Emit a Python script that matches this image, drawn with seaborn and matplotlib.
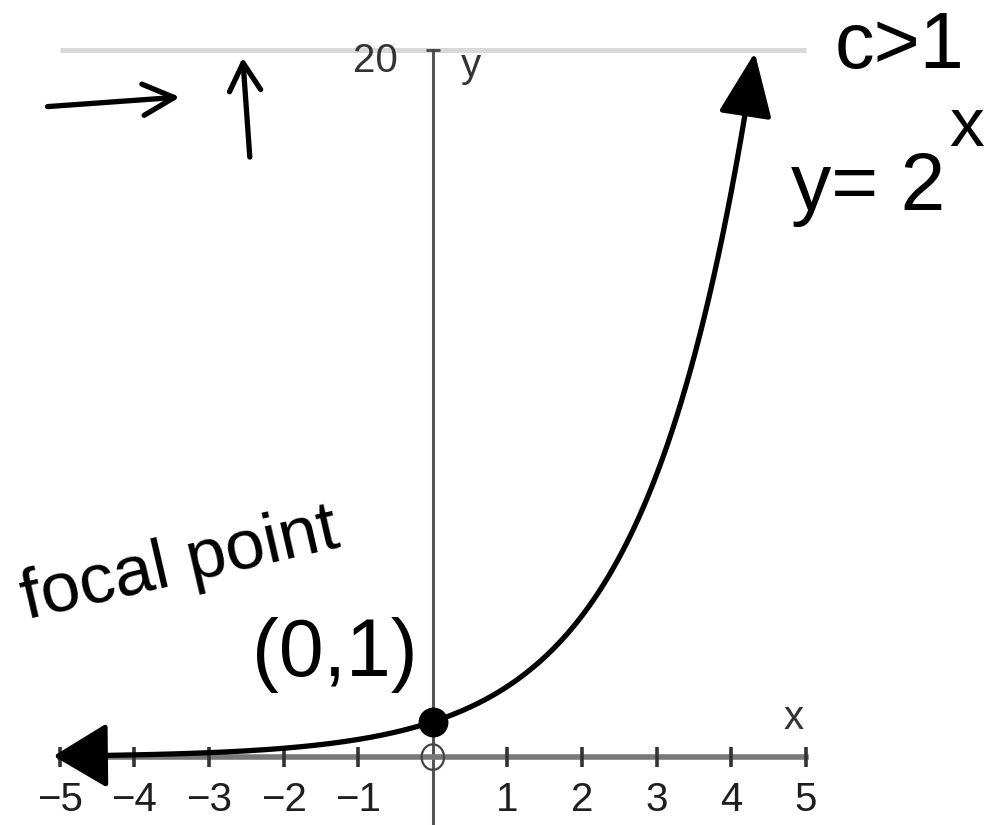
import numpy as np
import pandas as pd
import matplotlib
matplotlib.use("Agg")
import matplotlib.pyplot as plt
import matplotlib.transforms as mtransforms
from matplotlib.patches import Ellipse
import seaborn as sns

# Function shown: y = 2^x
base = 2
x_start, x_end = -4.92, 4.25
x_ticks = [-5, -4, -3, -2, -1, 1, 2, 3, 4, 5]
y_ticks = [20]
focal_x, focal_y = 0, 1

sns.set_theme(style="white")
FONT = ["Liberation Sans", "DejaVu Sans"]
plt.rcParams["font.family"] = FONT

fig = plt.figure(figsize=(9.94, 8.25), dpi=100)
ax = fig.add_axes([0, 0, 1, 1])
ax.set_xlim(-5.80, 7.52)
ax.set_ylim(-1.92, 21.41)

xs = np.linspace(x_start, x_end, 300)
df = pd.DataFrame({"x": xs, "y": base ** xs})

# gridline at the top of the window, kept behind the tick labels
ax.hlines(y_ticks[0], -5, 5, color="#d9d9d9", lw=3.6, zorder=0.2)

# axes through the origin
for side in ["top", "right"]:
    ax.spines[side].set_visible(False)
ax.spines["bottom"].set_position(("data", 0))
ax.spines["left"].set_position(("data", 0))
ax.spines["bottom"].set_bounds(-5, 5)
ax.spines["left"].set_bounds(-2, 20)
ax.spines["bottom"].set_color("#787878")
ax.spines["bottom"].set_linewidth(4.0)
ax.spines["left"].set_color("#555555")
ax.spines["left"].set_linewidth(2.2)
ax.xaxis.set_zorder(3)
ax.yaxis.set_zorder(3)

ax.set_xticks(x_ticks)
ax.set_xticklabels([str(t).replace("-", "\u2212") for t in x_ticks])
ax.set_yticks(y_ticks)
ax.set_yticklabels([str(t) for t in y_ticks])
ax.tick_params(axis="x", direction="inout", length=15, width=2.6, color="#333333",
               labelsize=29, labelcolor="#1e1e1e", pad=10, bottom=True)
ax.tick_params(axis="y", direction="inout", length=10, width=2, color="#444444",
               labelsize=29, labelcolor="#333333", pad=20, left=True)
shift = mtransforms.ScaledTranslation(0, -7 / 100, fig.dpi_scale_trans)
for lbl in ax.get_yticklabels():
    lbl.set_transform(lbl.get_transform() + shift)
ax.grid(False)

ax.text(0.51, 19.54, "y", fontsize=29, color="#333333", ha="center", va="center")
ax.text(4.83, 1.10, "x", fontsize=29, color="#333333", ha="center", va="center")

# curve
sns.lineplot(data=df, x="x", y="y", ax=ax, color="black", lw=3.8, zorder=4,
             legend=False)
ax.set_xlabel("")
ax.set_ylabel("")

# arrowheads at both ends of the curve
ax.annotate("", xy=(-5.12, base ** -5.12), xytext=(x_start + 0.05, base ** (x_start + 0.05)),
            arrowprops=dict(arrowstyle="-|>,head_length=1.0,head_width=0.6",
                            mutation_scale=34, color="black", lw=3.5), zorder=5)
ax.annotate("", xy=(4.32, 20.0), xytext=(4.24, base ** 4.24),
            arrowprops=dict(arrowstyle="-|>,head_length=1.0,head_width=0.42",
                            mutation_scale=40, color="black", lw=3.5), zorder=5)

# focal point and origin
ax.scatter([focal_x], [focal_y], s=420, color="black", zorder=6)
ax.add_patch(Ellipse((0, 0), 0.3, 0.72, fill=False, ec="#444444", lw=1.6, zorder=6))

# handwritten notes
ax.text(6.26, 20.06, "c>1", fontsize=57, color="black", ha="center", va="center")
ax.text(5.83, 15.47, "y= 2", fontsize=58, color="black", ha="center", va="baseline")
ax.text(7.15, 17.79, "x", fontsize=50, color="black", ha="center", va="center")
ax.text(-3.39, 5.43, "focal point", fontsize=51, color="black", ha="center",
        va="center", rotation=13)
ax.text(-1.31, 2.89, "(0,1)", fontsize=58, color="black", ha="center", va="center")

ax.annotate("", xy=(-3.35, 18.67), xytext=(-5.20, 18.39),
            arrowprops=dict(arrowstyle="->,head_length=0.9,head_width=0.45",
                            mutation_scale=25, color="black", lw=3.8))
ax.annotate("", xy=(-2.55, 19.86), xytext=(-2.45, 16.89),
            arrowprops=dict(arrowstyle="->,head_length=0.8,head_width=0.45",
                            mutation_scale=25, color="black", lw=3.8))

fig.savefig("out.png", dpi=100, facecolor="white")
